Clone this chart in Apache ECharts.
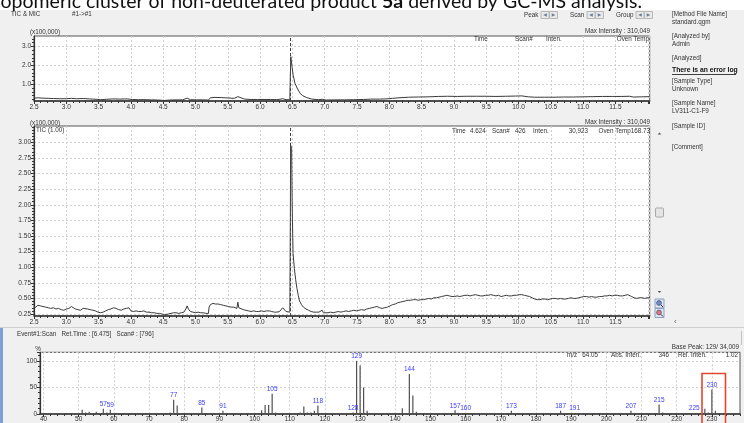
<!DOCTYPE html>
<html>
<head>
<meta charset="utf-8">
<script src="https://cdn.jsdelivr.net/npm/echarts@6/dist/echarts.min.js"></script>
<style>
  html, body { margin: 0; padding: 0; background: #f0f0f0; }
  #c { width: 744px; height: 423px; }
</style>
</head>
<body>
<div id="c"></div>
<script>
// ---- TIC (x100,000), upper overview pane ----
const topTimes = [
  2.50,2.56,2.64,2.72,2.80,2.90,3.00,3.08,3.16,3.26,
  3.36,3.46,3.53,3.62,3.72,3.82,3.94,4.02,4.12,4.22,
  4.32,4.42,4.52,4.60,4.70,4.80,4.87,4.92,5.02,5.12,
  5.20,5.23,5.30,5.40,5.50,5.60,5.655,5.68,5.76,5.86,
  5.96,6.06,6.16,6.26,6.35,6.40,6.46,6.468,6.475,6.485,
  6.495,6.51,6.54,6.58,6.62,6.66,6.72,6.80,6.90,6.96,
  7.02,7.15,7.30,7.45,7.60,7.73,7.85,7.95,8.05,8.15,
  8.30,8.45,8.60,8.76,8.90,9.05,9.20,9.35,9.50,9.65,
  9.80,9.95,10.05,10.15,10.25,10.40,10.55,10.70,10.85,11.00,
  11.15,11.30,11.45,11.60,11.72,11.78,11.90,12.03
];
const ticTop = [
  0.27,0.29,0.27,0.26,0.25,0.24,0.24,0.26,0.24,0.25,
  0.23,0.21,0.19,0.21,0.23,0.22,0.23,0.20,0.19,0.19,
  0.18,0.17,0.15,0.17,0.18,0.18,0.27,0.19,0.18,0.18,
  0.17,0.29,0.31,0.30,0.28,0.26,0.35,0.25,0.22,0.20,
  0.20,0.20,0.20,0.19,0.24,0.19,0.19,1.50,2.46,2.45,
  1.90,1.50,1.05,0.75,0.52,0.40,0.30,0.22,0.19,0.21,
  0.17,0.18,0.18,0.19,0.20,0.22,0.22,0.23,0.26,0.29,
  0.32,0.33,0.34,0.36,0.37,0.36,0.37,0.37,0.37,0.36,
  0.37,0.38,0.39,0.34,0.32,0.32,0.32,0.33,0.33,0.34,
  0.35,0.36,0.36,0.36,0.37,0.33,0.34,0.35
];

// ---- TIC (1.00) (x100,000), main pane ----
const ticTimes = [
  2.50,2.53,2.56,2.60,2.64,2.68,2.72,2.76,2.80,2.84,
  2.88,2.92,2.96,3.00,3.04,3.08,3.11,3.14,3.18,3.22,
  3.26,3.29,3.33,3.37,3.41,3.45,3.49,3.53,3.57,3.61,
  3.65,3.69,3.73,3.77,3.81,3.85,3.89,3.93,3.97,4.00,
  4.04,4.08,4.12,4.16,4.20,4.24,4.28,4.32,4.36,4.40,
  4.44,4.48,4.52,4.55,4.58,4.62,4.66,4.70,4.74,4.78,
  4.82,4.85,4.87,4.89,4.92,4.96,5.00,5.04,5.08,5.12,
  5.16,5.20,5.21,5.23,5.27,5.31,5.35,5.39,5.43,5.47,
  5.51,5.55,5.59,5.62,5.64,5.655,5.67,5.70,5.74,5.78,
  5.82,5.86,5.90,5.94,5.98,6.02,6.06,6.10,6.14,6.18,
  6.22,6.26,6.30,6.33,6.35,6.37,6.40,6.43,6.46,6.468,
  6.472,6.480,6.488,6.495,6.50,6.51,6.53,6.55,6.57,6.59,
  6.61,6.64,6.67,6.71,6.75,6.79,6.83,6.87,6.91,6.94,
  6.96,6.98,7.01,7.05,7.09,7.13,7.17,7.21,7.25,7.29,
  7.33,7.37,7.41,7.45,7.49,7.53,7.57,7.61,7.65,7.69,
  7.73,7.77,7.81,7.85,7.89,7.93,7.97,8.01,8.05,8.09,
  8.13,8.17,8.21,8.25,8.29,8.33,8.37,8.41,8.45,8.49,
  8.53,8.57,8.61,8.65,8.69,8.73,8.77,8.81,8.85,8.89,
  8.93,8.97,9.01,9.05,9.09,9.13,9.17,9.21,9.25,9.29,
  9.33,9.37,9.41,9.45,9.49,9.53,9.57,9.61,9.65,9.69,
  9.73,9.77,9.81,9.85,9.89,9.93,9.97,10.01,10.05,10.09,
  10.13,10.17,10.21,10.25,10.29,10.33,10.37,10.41,10.45,10.49,
  10.53,10.57,10.61,10.65,10.69,10.73,10.77,10.81,10.85,10.89,
  10.93,10.97,11.01,11.05,11.09,11.13,11.17,11.21,11.25,11.29,
  11.33,11.37,11.41,11.45,11.49,11.53,11.57,11.61,11.65,11.69,
  11.72,11.75,11.79,11.83,11.87,11.91,11.95,11.99,12.03
];
const ticMain = [
  0.34,0.37,0.39,0.38,0.37,0.36,0.35,0.34,0.35,0.33,
  0.34,0.32,0.31,0.33,0.34,0.37,0.35,0.33,0.32,0.31,
  0.34,0.35,0.33,0.32,0.31,0.30,0.28,0.27,0.28,0.30,
  0.32,0.33,0.35,0.34,0.32,0.31,0.33,0.34,0.35,0.30,
  0.29,0.30,0.29,0.29,0.30,0.28,0.28,0.27,0.27,0.26,
  0.26,0.25,0.24,0.23,0.25,0.26,0.27,0.27,0.26,0.27,
  0.28,0.33,0.38,0.33,0.29,0.28,0.27,0.28,0.27,0.27,
  0.26,0.26,0.36,0.40,0.42,0.41,0.41,0.40,0.39,0.38,
  0.37,0.36,0.36,0.35,0.34,0.44,0.35,0.34,0.32,0.31,
  0.30,0.29,0.30,0.29,0.29,0.30,0.29,0.30,0.30,0.29,
  0.28,0.28,0.29,0.31,0.35,0.33,0.29,0.28,0.28,1.80,
  2.96,2.97,2.90,2.10,1.76,1.22,0.98,0.80,0.66,0.55,
  0.46,0.40,0.36,0.33,0.31,0.29,0.28,0.28,0.28,0.29,
  0.31,0.27,0.26,0.27,0.28,0.27,0.28,0.29,0.28,0.29,
  0.30,0.29,0.30,0.31,0.30,0.31,0.32,0.31,0.33,0.34,
  0.35,0.36,0.37,0.35,0.34,0.35,0.36,0.38,0.40,0.41,
  0.43,0.44,0.45,0.46,0.47,0.47,0.48,0.48,0.47,0.48,
  0.48,0.49,0.50,0.49,0.51,0.51,0.52,0.53,0.54,0.55,
  0.54,0.53,0.53,0.54,0.53,0.54,0.55,0.55,0.54,0.55,
  0.56,0.55,0.54,0.54,0.55,0.55,0.56,0.55,0.54,0.55,
  0.53,0.54,0.55,0.54,0.54,0.55,0.55,0.56,0.56,0.55,
  0.54,0.53,0.51,0.49,0.48,0.48,0.49,0.49,0.48,0.49,
  0.50,0.50,0.49,0.50,0.49,0.49,0.50,0.51,0.50,0.50,
  0.51,0.52,0.53,0.53,0.52,0.53,0.52,0.52,0.53,0.53,
  0.54,0.54,0.55,0.54,0.55,0.55,0.54,0.54,0.55,0.56,
  0.56,0.53,0.51,0.50,0.51,0.51,0.50,0.51,0.51
];
const retTime = 6.475;

// ---- Mass spectrum at scan 796 (relative intensity, %) ----
const specMz = [51,52,53,55,56,57,58,59,63,65,69,74,75,76,77,78,79,85,86,89,91,92,98,
  102,103,104,105,106,113,114,115,116,117,118,119,127,128,129,130,131,132,139,142,143,
  144,145,146,156,157,158,160,172,173,174,186,187,188,191,206,207,214,215,216,225,228,
  229,230,231];
const specRel = [8,3,4,4,2,10,3,8,2,2,2,2,2,3,27,16,2,12,2,2,6,2,2,
  7,17,17,38,3,3,14,3,3,6,16,2,2,3,100,91,50,6,2,11,2,
  75,35,4,2,7,2,2,2,6,2,2,6,1,2,2,6,2,18,3,2,10,
  3,46,6];
const labeledMz = [57,59,77,85,91,105,118,128,129,144,157,160,173,187,191,207,215,225,230];

// ---- tick labels ----
const topYTicks = [1.0, 2.0, 3.0];
const mainYTicks = [0.25,0.50,0.75,1.00,1.25,1.50,1.75,2.00,2.25,2.50,2.75,3.00];
const specXTicks = [40,50,60,70,80,90,100,110,120,130,140,150,160,170,180,190,200,210,220,230];

const FONT = '"Liberation Sans", Arial, sans-serif';
const SMALL = '6.3px ' + FONT;
const AX = '#333';
const GRIDLINE = { show: true, lineStyle: { color: '#cfcfcf', width: 1, type: [2, 2] } };

function steps(a, b, s) {
  const out = [];
  for (let i = 0; a + i * s <= b + 1e-9; i++) out.push(+(a + i * s).toFixed(4));
  return out;
}
function zip(xs, ys) { return xs.map((x, i) => [x, ys[i]]); }

function timeAxis(gridIndex) {
  return {
    type: 'value', gridIndex, min: 2.5, max: 12.03, interval: 0.5,
    axisLine: { lineStyle: { color: AX, width: 1.5 } },
    axisTick: { length: 3, lineStyle: { color: AX } },
    minorTick: { show: true, splitNumber: 5, length: 2, lineStyle: { color: AX } },
    axisLabel: { fontSize: 6.5, fontFamily: FONT, color: AX, margin: 3,
      formatter: v => (v > 11.9 ? '' : v.toFixed(1)) },
    splitLine: GRIDLINE
  };
}
function minorY(gridIndex, min, max, vals) {
  return {
    type: 'value', gridIndex, min, max, position: 'left',
    axisLine: { show: false }, axisLabel: { show: false }, splitLine: { show: false },
    axisTick: { show: true, length: 2, customValues: vals, lineStyle: { color: AX } }
  };
}

function txt(x, y, text, o) {
  return { type: 'text', x, y, z: 100, silent: true,
    style: Object.assign({ text, fill: '#333', font: SMALL, align: 'left', verticalAlign: 'middle' }, o || {}) };
}
function rect(x, y, w, h, fill, stroke, o) {
  return { type: 'rect', z: 99, silent: true, shape: Object.assign({ x, y, width: w, height: h }, (o && o.r) ? { r: o.r } : {}),
    style: { fill: fill, stroke: stroke || null, lineWidth: (o && o.lw) || 1 } };
}
function line(x1, y1, x2, y2, color, w) {
  return { type: 'line', z: 99, silent: true, shape: { x1, y1, x2, y2 }, style: { stroke: color, lineWidth: w || 1 } };
}
function tri(cx, cy, dir, color) {
  const s = 1.8;
  const pts = dir === 'left' ? [[cx + s, cy - s], [cx + s, cy + s], [cx - s, cy]]
    : dir === 'right' ? [[cx - s, cy - s], [cx - s, cy + s], [cx + s, cy]]
    : dir === 'up' ? [[cx - s, cy + s * 0.6], [cx + s, cy + s * 0.6], [cx, cy - s * 0.6]]
    : [[cx - s, cy - s * 0.6], [cx + s, cy - s * 0.6], [cx, cy + s * 0.6]];
  return { type: 'polygon', z: 101, silent: true, shape: { points: pts }, style: { fill: color } };
}
function navButtons(x) {
  return [
    rect(x, 11.5, 8, 7, '#e9e9e9', '#b8b8b8'), tri(x + 4, 15, 'left', '#6a7f9a'),
    rect(x + 8.5, 11.5, 8, 7, '#e9e9e9', '#b8b8b8'), tri(x + 12.5, 15, 'right', '#6a7f9a')
  ];
}
function magnifier(x, y, color) {
  return [
    rect(x, y, 9, 9, '#dde6f2', '#8aa0c0'),
    { type: 'circle', z: 101, silent: true, shape: { cx: x + 4, cy: y + 4, r: 2.4 }, style: { fill: color, stroke: '#334', lineWidth: 0.6 } },
    line(x + 5.8, y + 5.8, x + 8, y + 8, '#334', 1)
  ];
}

const graphics = [
  // document caption strip above the software window
  rect(0, 0, 744, 10, '#ffffff'),
  { type: 'text', x: 642, y: 1.4, z: 102, silent: true,
    style: { text: 'isotopomeric cluster of non-deuterated product {b|5a} derived by GC-MS analysis.',
      fill: '#111', fontSize: 19.5, fontFamily: 'Lato', align: 'right', verticalAlign: 'middle',
      rich: { b: { fontSize: 19.5, fontFamily: 'Lato', fontWeight: 'bold', fill: '#111' } } } },

  // window toolbar
  txt(11, 14.5, 'TIC & MIC'), txt(72, 14.5, '#1->#1'),
  txt(524, 15, 'Peak'), ...navButtons(541),
  txt(570, 15, 'Scan'), ...navButtons(587),
  txt(616, 15, 'Group'), ...navButtons(636),

  // file information
  txt(672, 14, '[Method File Name]'), txt(672, 22, 'standard.qgm'),
  txt(672, 36.5, '[Analyzed by]'), txt(672, 44, 'Admin'),
  txt(672, 58.5, '[Analyzed]'),
  txt(672, 70.5, 'There is an error log', { fill: '#111', font: 'bold 6.8px ' + FONT }),
  line(672, 74.5, 736, 74.5, '#111', 0.8),
  txt(672, 81.5, '[Sample Type]'), txt(672, 89.5, 'Unknown'),
  txt(672, 103.5, '[Sample Name]'), txt(672, 111.5, 'LV311-C1-F9'),
  txt(672, 126, '[Sample ID]'),
  txt(672, 147, '[Comment]'),

  // upper chromatogram headers
  txt(30, 32.5, '(x100,000)'),
  txt(650, 31, 'Max Intensity : 310,049', { align: 'right' }),
  txt(474, 39.5, 'Time'), txt(515, 39.5, 'Scan#'), txt(546, 39.5, 'Inten.'),
  txt(649, 39.5, 'Oven Temp', { align: 'right' }),

  // main chromatogram headers
  txt(30, 123.5, '(x100,000)'),
  txt(36, 130, 'TIC (1.00)'),
  txt(650, 122.5, 'Max Intensity : 310,049', { align: 'right' }),
  txt(452, 131, 'Time'), txt(470, 131, '4.624'), txt(492, 131, 'Scan#'), txt(515, 131, '426'),
  txt(533, 131, 'Inten.'), txt(588, 131, '30,923', { align: 'right' }),
  txt(650, 131, 'Oven Temp168.73', { align: 'right' }),

  // vertical scroll widgets beside the main chromatogram
  tri(659.5, 133.5, 'up', '#555'),
  rect(655.5, 208, 8, 9, '#e4e4e4', '#a9a9a9', { r: 1 }),
  tri(659.5, 292, 'down', '#555'),
  ...magnifier(655, 299, '#6d8fd8'),
  ...magnifier(655, 308.5, '#e07a8a'),
  txt(674, 321.5, '\u2039', { fill: '#666', font: '8px ' + FONT }),

  // spectrum pane frame and header
  line(0, 327.5, 744, 327.5, '#cfcfcf', 1),
  rect(0, 328, 3, 95, '#7c9fd6'),
  line(741.5, 331, 741.5, 345, '#c4c4c4', 1),
  txt(17, 334.5, 'Event#1:Scan   Ret.Time : [6.475]   Scan# : [796]'),
  txt(739, 347.5, 'Base Peak: 129/ 34,009', { align: 'right' }),
  txt(38, 349, '%', { align: 'center' }),
  txt(567, 355, 'm/z'), txt(598, 355, '64.05', { align: 'right' }),
  txt(611, 355, 'Abs. Inten.'), txt(669, 355, '346', { align: 'right' }),
  txt(678, 355, 'Rel. Inten.'), txt(738, 355, '1.02', { align: 'right' }),

  // highlighted molecular ion region
  { type: 'rect', z: 110, silent: true, shape: { x: 702, y: 373.5, width: 23.5, height: 60 },
    style: { fill: null, stroke: '#e4472d', lineWidth: 1.6 } }
];

const chart = echarts.init(document.getElementById('c'));
chart.setOption({
  animation: false,
  backgroundColor: '#f0f0f0',
  textStyle: { fontFamily: FONT },
  grid: [
    { left: 34, top: 36, width: 615.7, height: 65, show: true, backgroundColor: '#fff', borderColor: '#555', borderWidth: 1 },
    { left: 34, top: 126, width: 615.7, height: 190, show: true, backgroundColor: '#fff', borderColor: '#555', borderWidth: 1 },
    { left: 40, top: 352.3, width: 700, height: 64.4, show: true, backgroundColor: '#fff', borderColor: '#555', borderWidth: 1 }
  ],
  xAxis: [
    timeAxis(0),
    timeAxis(1),
    {
      type: 'value', gridIndex: 2, min: 39, max: 238,
      axisLine: { lineStyle: { color: AX, width: 1.5 } },
      axisTick: { length: 3, customValues: specXTicks, lineStyle: { color: AX } },
      axisLabel: { customValues: specXTicks, fontSize: 6.5, fontFamily: FONT, color: AX, margin: 2 },
      splitLine: GRIDLINE
    },
    {
      type: 'value', gridIndex: 2, min: 39, max: 238, position: 'bottom',
      axisLine: { show: false }, axisLabel: { show: false }, splitLine: { show: false },
      axisTick: { length: 2, customValues: steps(40, 238, 2), lineStyle: { color: AX } }
    }
  ],
  yAxis: [
    {
      type: 'value', gridIndex: 0, min: 0.12, max: 3.55, position: 'left',
      axisLine: { show: true, lineStyle: { color: AX, width: 1.2 } },
      axisTick: { show: true, length: 3, customValues: topYTicks, lineStyle: { color: AX } },
      axisLabel: { customValues: topYTicks, fontSize: 6.5, fontFamily: FONT, color: AX, margin: 3, formatter: v => v.toFixed(1) },
      splitLine: GRIDLINE
    },
    minorY(0, 0.12, 3.55, steps(0.2, 3.4, 0.2)),
    {
      type: 'value', gridIndex: 1, min: 0.218, max: 3.263, position: 'left',
      axisLine: { show: true, lineStyle: { color: AX, width: 1.2 } },
      axisTick: { show: true, length: 3, customValues: mainYTicks, lineStyle: { color: AX } },
      axisLabel: { customValues: mainYTicks, fontSize: 6.5, fontFamily: FONT, color: AX, margin: 3, formatter: v => v.toFixed(2) },
      splitLine: GRIDLINE
    },
    minorY(1, 0.218, 3.263, steps(0.25, 3.25, 0.05)),
    {
      type: 'value', gridIndex: 2, min: 0, max: 116, interval: 50, position: 'left',
      axisLine: { show: true, lineStyle: { color: AX, width: 1.2 } },
      axisTick: { show: true, length: 3, lineStyle: { color: AX } },
      minorTick: { show: true, splitNumber: 5, length: 2, lineStyle: { color: AX } },
      axisLabel: { fontSize: 6.5, fontFamily: FONT, color: AX, margin: 3, formatter: v => (v > 100 ? '' : String(v)) },
      splitLine: GRIDLINE
    }
  ],
  series: [
    {
      type: 'line', xAxisIndex: 0, yAxisIndex: 0, data: zip(topTimes, ticTop),
      symbol: 'none', lineStyle: { color: '#3a3a3a', width: 1 },
      markLine: { silent: true, symbol: 'none', label: { show: false },
        lineStyle: { color: '#444', type: [3, 2], width: 1 }, data: [{ xAxis: retTime }] }
    },
    {
      type: 'line', xAxisIndex: 1, yAxisIndex: 2, data: zip(ticTimes, ticMain),
      symbol: 'none', lineStyle: { color: '#3a3a3a', width: 1 },
      markLine: { silent: true, symbol: 'none', label: { show: false },
        lineStyle: { color: '#444', type: [3, 2], width: 1 }, data: [{ xAxis: retTime }] }
    },
    {
      type: 'bar', xAxisIndex: 2, yAxisIndex: 4, data: zip(specMz, specRel),
      barWidth: 1.2, itemStyle: { color: '#505050' },
      label: {
        show: true, position: 'top', distance: 1, color: '#3b3bff', fontSize: 6.5, fontFamily: FONT,
        formatter: p => (labeledMz.indexOf(p.data[0]) >= 0 ? String(p.data[0]) : '')
      }
    }
  ],
  graphic: graphics
});
</script>
</body>
</html>
